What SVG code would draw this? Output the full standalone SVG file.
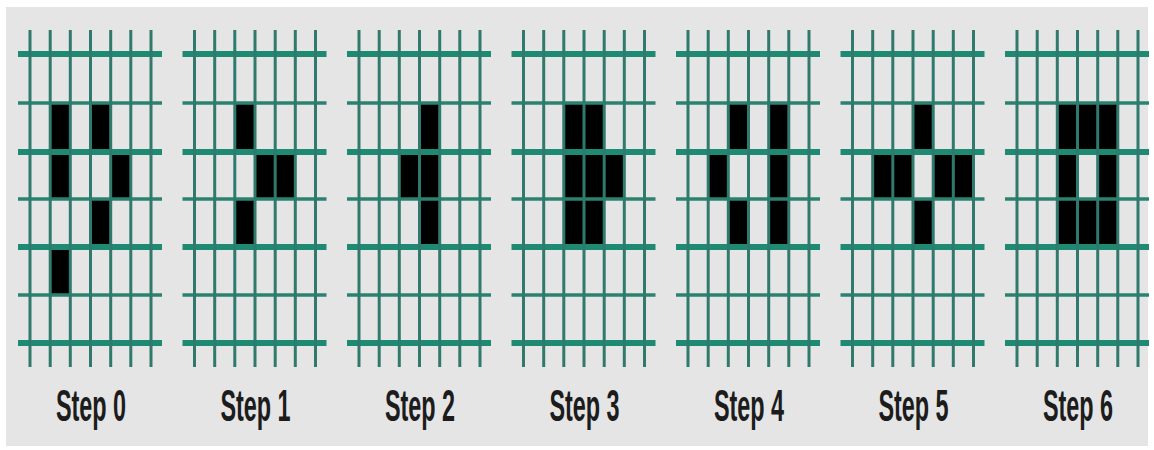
<svg xmlns="http://www.w3.org/2000/svg" xmlns:xlink="http://www.w3.org/1999/xlink" width="1154" height="450" viewBox="0 0 1154 450">
<style>
.v{stroke:#2f7a6c;stroke-width:3}
.hk{stroke:#1f8a74;stroke-width:6}
.hn{stroke:#2a8270;stroke-width:3.5}
.c{fill:#000}
.lbl{font-family:"Liberation Sans",Arial,sans-serif;font-size:45px;font-weight:bold;fill:#1c1c1c;text-anchor:middle}
</style>
<defs>
<g id="grid">
<line class="hk" x1="18" y1="54" x2="162" y2="54"/>
<line class="hn" x1="18" y1="103" x2="162" y2="103"/>
<line class="hk" x1="18" y1="152" x2="162" y2="152"/>
<line class="hn" x1="18" y1="199" x2="162" y2="199"/>
<line class="hk" x1="18" y1="247" x2="162" y2="247"/>
<line class="hn" x1="18" y1="295" x2="162" y2="295"/>
<line class="hk" x1="18" y1="343" x2="162" y2="343"/>
<line class="v" x1="30" y1="30" x2="30" y2="367"/>
<line class="v" x1="50.2" y1="30" x2="50.2" y2="367"/>
<line class="v" x1="70.3" y1="30" x2="70.3" y2="367"/>
<line class="v" x1="90.5" y1="30" x2="90.5" y2="367"/>
<line class="v" x1="110.7" y1="30" x2="110.7" y2="367"/>
<line class="v" x1="130.8" y1="30" x2="130.8" y2="367"/>
<line class="v" x1="151" y1="30" x2="151" y2="367"/>
</g>
</defs>
<rect x="0" y="0" width="1154" height="450" fill="#ffffff"/>
<rect x="6" y="7" width="1142" height="439" fill="#e5e5e5"/>

<g id="step0" transform="translate(0,0)">
<rect class="c" x="50.2" y="103" width="20.1" height="49"/>
<rect class="c" x="50.2" y="152" width="20.1" height="47"/>
<rect class="c" x="90.5" y="103" width="20.2" height="49"/>
<rect class="c" x="110.7" y="152" width="20.1" height="47"/>
<rect class="c" x="90.5" y="199" width="20.2" height="48"/>
<rect class="c" x="50.2" y="247" width="20.1" height="48"/>
<use xlink:href="#grid"/>
<text class="lbl" transform="translate(91,421) scale(0.52,1)">Step 0</text>
</g>

<g id="step1" transform="translate(164.5,0)">
<rect class="c" x="70.3" y="103" width="20.2" height="49"/>
<rect class="c" x="90.5" y="152" width="20.2" height="47"/>
<rect class="c" x="110.7" y="152" width="20.1" height="47"/>
<rect class="c" x="70.3" y="199" width="20.2" height="48"/>
<use xlink:href="#grid"/>
<text class="lbl" transform="translate(91,421) scale(0.52,1)">Step 1</text>
</g>

<g id="step2" transform="translate(329,0)">
<rect class="c" x="90.5" y="103" width="20.2" height="49"/>
<rect class="c" x="70.3" y="152" width="20.2" height="47"/>
<rect class="c" x="90.5" y="152" width="20.2" height="47"/>
<rect class="c" x="90.5" y="199" width="20.2" height="48"/>
<use xlink:href="#grid"/>
<text class="lbl" transform="translate(91,421) scale(0.52,1)">Step 2</text>
</g>

<g id="step3" transform="translate(493.5,0)">
<rect class="c" x="70.3" y="103" width="40.4" height="49"/>
<rect class="c" x="70.3" y="152" width="60.5" height="47"/>
<rect class="c" x="70.3" y="199" width="40.4" height="48"/>
<use xlink:href="#grid"/>
<text class="lbl" transform="translate(91,421) scale(0.52,1)">Step 3</text>
</g>

<g id="step4" transform="translate(658,0)">
<rect class="c" x="70.3" y="103" width="20.2" height="49"/>
<rect class="c" x="110.7" y="103" width="20.1" height="49"/>
<rect class="c" x="50.2" y="152" width="20.1" height="47"/>
<rect class="c" x="110.7" y="152" width="20.1" height="47"/>
<rect class="c" x="70.3" y="199" width="20.2" height="48"/>
<rect class="c" x="110.7" y="199" width="20.1" height="48"/>
<use xlink:href="#grid"/>
<text class="lbl" transform="translate(91,421) scale(0.52,1)">Step 4</text>
</g>

<g id="step5" transform="translate(822.5,0)">
<rect class="c" x="90.5" y="103" width="20.2" height="49"/>
<rect class="c" x="50.2" y="152" width="40.3" height="47"/>
<rect class="c" x="110.7" y="152" width="40.3" height="47"/>
<rect class="c" x="90.5" y="199" width="20.2" height="48"/>
<use xlink:href="#grid"/>
<text class="lbl" transform="translate(91,421) scale(0.52,1)">Step 5</text>
</g>

<g id="step6" transform="translate(987,0)">
<rect class="c" x="70.3" y="103" width="60.5" height="49"/>
<rect class="c" x="70.3" y="152" width="20.2" height="47"/>
<rect class="c" x="110.7" y="152" width="20.1" height="47"/>
<rect class="c" x="70.3" y="199" width="60.5" height="48"/>
<use xlink:href="#grid"/>
<text class="lbl" transform="translate(91,421) scale(0.52,1)">Step 6</text>
</g>
</svg>
